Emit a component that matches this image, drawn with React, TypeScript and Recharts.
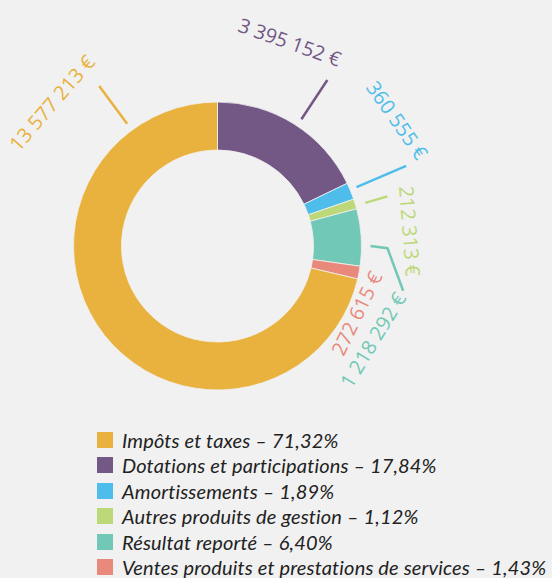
import React from 'react';
import { PieChart, Pie, Cell } from 'recharts';

// Budget breakdown
const categories = [
  'Impôts et taxes',
  'Dotations et participations',
  'Amortissements',
  'Autres produits de gestion',
  'Résultat reporté',
  'Ventes produits et prestations de services',
];
const amounts = [13577213, 3395152, 360555, 212313, 1218292, 272615];
const amountLabels = ['13 577 213 €', '3 395 152 €', '360 555 €', '212 313 €', '1 218 292 €', '272 615 €'];
const percentLabels = ['71,32%', '17,84%', '1,89%', '1,12%', '6,40%', '1,43%'];
const colors = ['#E9B23E', '#735886', '#4FBDEB', '#BCD878', '#72C8B6', '#E8897C'];

// slices run clockwise from 12 o'clock in this order
const sliceOrder = [1, 2, 3, 4, 5, 0];

// label placement relative to each slice's mid angle (deg) and radius (px)
// ccw = text reads counter-clockwise (tops face the centre)
const labelLayout: Record<number, { dA: number; r: number; ccw?: boolean; line: [number, number][] }> = {
  0: { dA: 280.8, r: 219, line: [[268.1, 152], [268.1, 199]] },
  1: { dA: 12.6, r: 216.5, line: [[-1.4, 152], [-1.4, 199]] },
  2: { dA: 12.6, r: 219.5, line: [[0.6, 151], [0.6, 205]] },
  3: { dA: -12.5, r: 193, line: [[-0.7, 154], [-0.7, 177]] },
  4: { dA: -34.6, r: 181.5, ccw: true, line: [[-3.4, 153], [-4.2, 170], [-17, 191]] },
  5: { dA: -15.2, r: 154.5, ccw: true, line: [] },
};

const pieData = sliceOrder.map((i) => ({ idx: i, name: categories[i], value: amounts[i] }));

const polar = (cx: number, cy: number, r: number, deg: number) => {
  const a = (deg * Math.PI) / 180;
  return { x: cx + r * Math.cos(a), y: cy - r * Math.sin(a) };
};

const renderLabel = (props: any) => {
  const { cx, cy, midAngle, payload } = props;
  const idx = payload?.idx ?? props.idx;
  const lay = labelLayout[idx];
  const color = colors[idx];
  const theta = midAngle + lay.dA;
  const p = polar(cx, cy, lay.r, theta);
  const rot = lay.ccw ? -90 - theta : 90 - theta;
  const pts = lay.line.map(([d, r]) => polar(cx, cy, r, midAngle + d));
  return (
    <g key={`lbl-${idx}`}>
      {pts.length > 1 && (
        <polyline
          points={pts.map((q) => `${q.x},${q.y}`).join(' ')}
          fill="none"
          stroke={color}
          strokeWidth={2.5}
        />
      )}
      <text
        x={p.x}
        y={p.y}
        fill={color}
        fontSize={20}
        fontFamily="'Open Sans', sans-serif"
        textAnchor="middle"
        dominantBaseline="central"
        transform={`rotate(${rot}, ${p.x}, ${p.y})`}
      >
        {amountLabels[idx]}
      </text>
    </g>
  );
};

export default function App() {
  return (
    <div style={{ position: 'relative', width: 552, height: 578, background: '#F1F1F1', overflow: 'hidden' }}>
      <style>{`body{margin:0;background:#F1F1F1;}`}</style>
      <PieChart
        width={552}
        height={420}
        margin={{ top: 0, right: 0, bottom: 0, left: 0 }}
        style={{ position: 'absolute', left: 0, top: 0 }}
      >
        <Pie
          data={pieData}
          dataKey="value"
          nameKey="name"
          cx={217.5}
          cy={246}
          innerRadius={96}
          outerRadius={144}
          startAngle={90}
          endAngle={-270}
          stroke="#F1F1F1"
          strokeWidth={0.8}
          label={renderLabel}
          labelLine={false}
          isAnimationActive={false}
        >
          {pieData.map((d) => (
            <Cell key={d.idx} fill={colors[d.idx]} />
          ))}
        </Pie>
      </PieChart>
      <div style={{ position: 'absolute', left: 97, top: 427 }}>
        {categories.map((c, i) => (
          <div key={c} style={{ display: 'flex', alignItems: 'center', height: 25.5 }}>
            <span style={{ width: 16, height: 16, background: colors[i], display: 'inline-block', marginRight: 9, flexShrink: 0 }} />
            <span
              style={{
                fontFamily: 'Lato, sans-serif',
                fontStyle: 'italic',
                fontSize: 20,
                color: '#222',
                whiteSpace: 'nowrap',
                letterSpacing: 0.15,
              }}
            >
              {c} – {percentLabels[i]}
            </span>
          </div>
        ))}
      </div>
    </div>
  );
}
